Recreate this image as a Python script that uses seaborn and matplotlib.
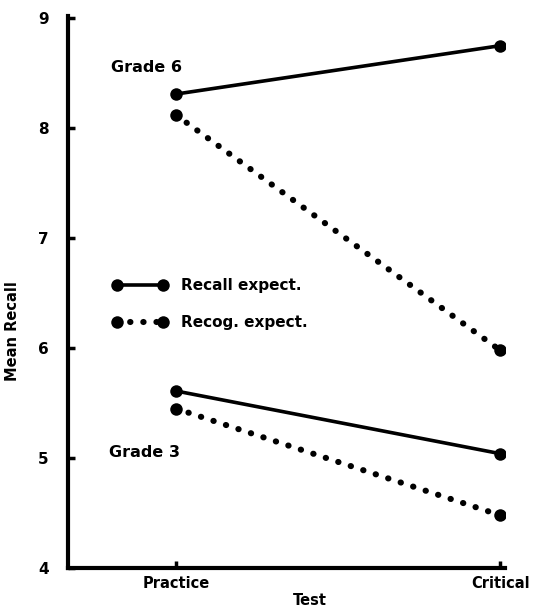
import matplotlib
matplotlib.use("Agg")
import matplotlib.pyplot as plt
from matplotlib.lines import Line2D
import pandas as pd
import seaborn as sns

tests = ["Practice", "Critical"]
grade6_recall = [8.31, 8.75]
grade6_recog = [8.12, 5.98]
grade3_recall = [5.61, 5.04]
grade3_recog = [5.45, 4.48]
y_ticks = [4, 5, 6, 7, 8, 9]

sns.set_style("ticks")
plt.rcParams["font.family"] = ["DejaVu Sans"]
plt.rcParams["font.weight"] = "bold"
plt.rcParams["text.color"] = "black"
plt.rcParams["axes.labelcolor"] = "black"
plt.rcParams["xtick.color"] = "black"
plt.rcParams["ytick.color"] = "black"
plt.rcParams["axes.edgecolor"] = "black"

fig = plt.figure(figsize=(5.39, 6.14), dpi=100)
ax = fig.add_axes([68 / 539, 46 / 614, (505 - 68) / 539, (568 - 16) / 614])

solid = dict(color="black", linewidth=2.6, marker="o", markersize=9,
             markeredgewidth=0, solid_capstyle="round")
dotted = dict(color="black", linewidth=4.4, marker="o", markersize=9,
              markeredgewidth=0, linestyle=(0, (0.05, 2.1)),
              dash_capstyle="round")

x = [0, 1]
series = [(grade6_recall, solid), (grade6_recog, dotted),
          (grade3_recall, solid), (grade3_recog, dotted)]
for values, style in series:
    df = pd.DataFrame({"test": x, "recall": values})
    sns.lineplot(data=df, x="test", y="recall", ax=ax, **style)

ax.set_xlim(-0.333, 1.015)
ax.set_ylim(4, 9.02)
ax.set_yticks(y_ticks)
ax.set_yticklabels([str(v) for v in y_ticks], fontsize=11, fontweight="bold")
ax.set_xticks(x)
ax.set_xticklabels(tests, fontsize=10.5, fontweight="bold")
ax.tick_params(axis="both", direction="in", length=5, width=2.5, pad=6)
ax.tick_params(axis="y", pad=14)

sns.despine(ax=ax)
for side in ["left", "bottom"]:
    ax.spines[side].set_linewidth(3)

ax.set_xlabel("Test", fontsize=10.5, fontweight="bold")
ax.set_ylabel("Mean Recall", fontsize=10.5, fontweight="bold")
ax.xaxis.set_label_coords(0.554, -0.046)
ax.yaxis.set_label_coords(-0.11, 0.43)

ax.text(-0.2, 8.55, "Grade 6", fontsize=11.5, fontweight="bold", va="center")
ax.text(-0.205, 5.05, "Grade 3", fontsize=11.5, fontweight="bold", va="center")

handles = [
    Line2D([], [], **solid),
    Line2D([], [], **dotted),
]
ax.legend(handles, ["Recall expect.", "Recog. expect."], loc="upper left",
          bbox_to_anchor=(0.07, 0.55), frameon=False, handlelength=3.6,
          numpoints=2, prop={"size": 11, "weight": "bold"},
          labelspacing=1.45, handletextpad=0.9)

fig.savefig("out.png", dpi=100)
